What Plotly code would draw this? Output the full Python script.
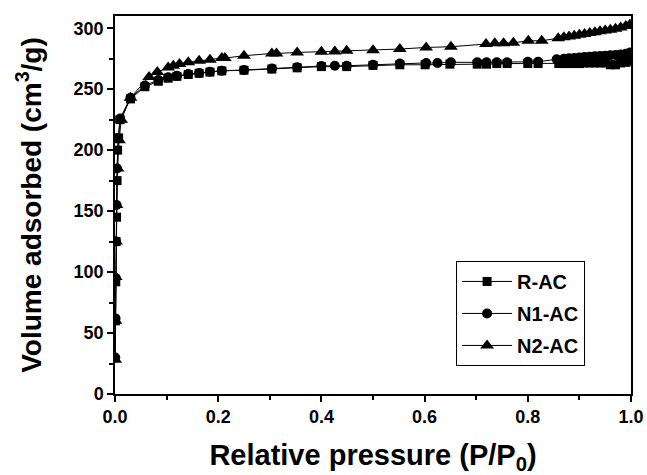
import plotly.graph_objects as go

# R-AC
p_r = [0.0008, 0.0015, 0.002, 0.003, 0.004, 0.005, 0.007, 0.0097, 0.030, 0.058, 0.084, 0.103, 0.120, 0.142,
       0.163, 0.184, 0.207, 0.250, 0.304, 0.353, 0.400, 0.449, 0.50, 0.552, 0.601, 0.649, 0.702, 0.72, 0.74,
       0.76, 0.80, 0.82, 0.86, 0.87, 0.88, 0.89, 0.90, 0.91, 0.92, 0.93, 0.94, 0.95, 0.96, 0.97, 0.98, 0.99, 0.995]
v_r = [60, 92, 125, 145, 175, 200, 210, 225, 242, 252, 256.5, 259, 260.5, 262, 263, 264, 265, 265.5, 266.5,
       267.5, 268.5, 268.5, 269.5, 270, 270, 270.5, 270.5, 270.5, 271, 271, 271, 271, 271, 271, 271, 271, 271,
       271.5, 271.5, 271.5, 271.5, 271.5, 270, 270, 271.5, 272, 273]

# N1-AC
p_n1 = [0.0005, 0.001, 0.0015, 0.002, 0.003, 0.004, 0.006, 0.010, 0.030, 0.058, 0.084, 0.103, 0.120, 0.142,
        0.163, 0.184, 0.207, 0.250, 0.304, 0.353, 0.400, 0.426, 0.449, 0.50, 0.552, 0.603, 0.625, 0.651, 0.702,
        0.72, 0.74, 0.76, 0.80, 0.82, 0.856, 0.87, 0.88, 0.89, 0.90, 0.91, 0.92, 0.93, 0.94, 0.95, 0.96, 0.97,
        0.98, 0.99, 0.998]
v_n1 = [30, 62, 95, 125, 155, 185, 210, 226, 243, 253, 257.5, 259.7, 261, 262.4, 263.2, 264.3, 265.1, 265.7,
        267, 267.9, 269, 269.2, 269.2, 270, 271, 271.5, 271.5, 272, 272, 272, 272, 272, 272.5, 272.5, 274.5,
        275, 275.3, 275.6, 276, 276.3, 276.6, 277, 277.2, 277.5, 277.8, 278, 278.5, 279, 280]

# N2-AC
p_n2 = [0.0005, 0.001, 0.0015, 0.002, 0.003, 0.005, 0.008, 0.012, 0.030, 0.066, 0.082, 0.103, 0.113, 0.125,
        0.142, 0.163, 0.184, 0.207, 0.213, 0.250, 0.304, 0.313, 0.353, 0.400, 0.426, 0.449, 0.50, 0.552, 0.603,
        0.651, 0.719, 0.736, 0.753, 0.772, 0.801, 0.827, 0.859, 0.87, 0.88, 0.89, 0.90, 0.91, 0.92, 0.93, 0.94,
        0.95, 0.96, 0.97, 0.98, 0.99, 0.998]
v_n2 = [28, 60, 96, 125, 155, 185, 208, 225, 243, 260, 264, 267.8, 269.2, 270.6, 272, 273.3, 274.1, 275.5,
        275.5, 277.4, 279.3, 279.3, 280.1, 280.7, 280.9, 281.5, 282, 282.9, 284.2, 284.8, 287, 287.7, 287.7,
        288, 289.7, 289.7, 291.8, 292.5, 293.2, 293.9, 294.6, 295.3, 296, 296.7, 297.4, 298.1, 298.8, 299.6,
        300.5, 301.8, 303]

series = [
    ("R-AC", p_r, v_r, "square", 9),
    ("N1-AC", p_n1, v_n1, "circle", 10),
    ("N2-AC", p_n2, v_n2, "triangle-up", 12),
]

fig = go.Figure()
for name, x, y, sym, size in series:
    fig.add_trace(go.Scatter(
        x=x, y=y, name=name, mode="lines+markers", legendgroup=name,
        line=dict(color="black", width=1),
        marker=dict(symbol=sym, size=size, color="black"),
    ))

font_family = "Liberation Sans, Arial, sans-serif"

fig.update_layout(
    width=647, height=475,
    margin=dict(l=115, r=16, t=16, b=81),
    paper_bgcolor="white", plot_bgcolor="white",
    font=dict(family=font_family, color="black"),
    showlegend=True,
    legend=dict(
        x=0.661, y=0.352, xanchor="left", yanchor="top",
        bordercolor="black", borderwidth=1, bgcolor="white",
        font=dict(size=20, family=font_family, color="black", weight="bold"),
        itemwidth=50, tracegroupgap=3,
    ),
    xaxis=dict(
        range=[0, 1.0], tickvals=[0, 0.2, 0.4, 0.6, 0.8, 1.0],
        ticktext=["0.0", "0.2", "0.4", "0.6", "0.8", "1.0"],
        ticks="outside", ticklen=6, tickwidth=1.5, tickcolor="black",
        minor=dict(dtick=0.1, ticks="outside", ticklen=4, tickwidth=1.5, tickcolor="black"),
        showline=True, linecolor="black", linewidth=1.5, mirror=True,
        showgrid=False, zeroline=False, automargin=False,
        tickfont=dict(size=18, family=font_family, color="black", weight="bold"),
        title=dict(text="Relative pressure (P/P<sub>0</sub>)",
                   font=dict(size=29, family=font_family, color="black", weight="bold"),
                   standoff=20),
    ),
    yaxis=dict(
        range=[0, 310], tickvals=[0, 50, 100, 150, 200, 250, 300],
        ticks="outside", ticklen=6, tickwidth=1.5, tickcolor="black",
        minor=dict(dtick=25, ticks="outside", ticklen=4, tickwidth=1.5, tickcolor="black"),
        showline=True, linecolor="black", linewidth=1.5, mirror=True,
        showgrid=False, zeroline=False, automargin=False,
        tickfont=dict(size=18, family=font_family, color="black", weight="bold"),
        title=dict(text="Volume adsorbed (cm<sup>3</sup>/g)",
                   font=dict(size=28, family=font_family, color="black", weight="bold"),
                   standoff=24),
    ),
)

fig.write_html("out.html", config={"displayModeBar": False},
               post_script="document.body.style.margin='0px';")
